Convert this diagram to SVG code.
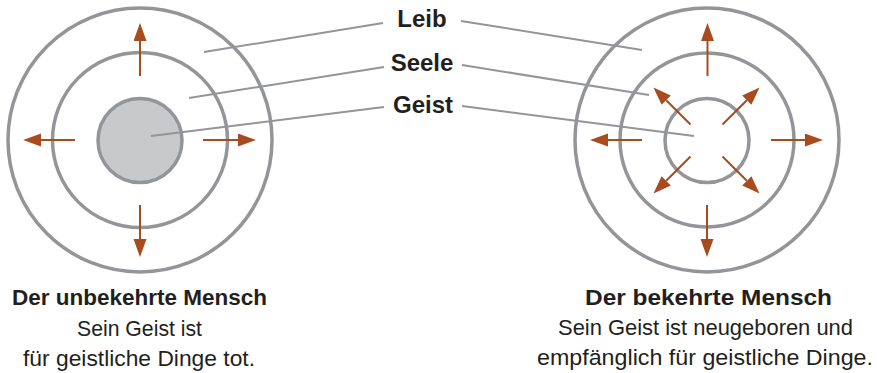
<svg xmlns="http://www.w3.org/2000/svg" width="877" height="373" viewBox="0 0 877 373">
<style>
.ring{fill:none;stroke:#939598;stroke-width:3.5}
.core{fill:#c8c9cb;stroke:#939598;stroke-width:3.5}
.lead{stroke:#939598;stroke-width:2;fill:none}
.arr{stroke:#a84b1f;stroke-width:2;fill:none;marker-end:url(#ah)}
.lbl{font-family:"Liberation Sans",Arial,sans-serif;font-weight:bold;font-size:24px;fill:#231f20;text-anchor:middle}
.hd{font-family:"Liberation Sans",Arial,sans-serif;font-weight:bold;font-size:22px;fill:#231f20;text-anchor:middle}
.tx{font-family:"Liberation Sans",Arial,sans-serif;font-size:22px;fill:#231f20;text-anchor:middle}
</style>
<defs>
<marker id="ah" markerUnits="userSpaceOnUse" markerWidth="19" markerHeight="14" refX="0" refY="6.5" orient="auto" viewBox="0 0 19 14">
<path d="M0,0 L18,6.5 L0,13 z" fill="#a84b1f"/>
</marker>
</defs>
<rect width="877" height="373" fill="#ffffff"/>
<g id="left-diagram">
<circle class="ring" cx="140" cy="140" r="132"/>
<circle class="ring" cx="140" cy="140" r="87.5"/>
<circle class="core" cx="140" cy="140.5" r="42"/>
</g>
<g id="right-diagram">
<circle class="ring" cx="707" cy="140" r="132"/>
<circle class="ring" cx="707" cy="140" r="87"/>
<circle class="ring" cx="707" cy="140.5" r="42"/>
</g>
<g id="label-leib"><text class="lbl" x="422" y="27">Leib</text></g>
<g id="label-seele"><text class="lbl" x="422" y="71">Seele</text></g>
<g id="label-geist"><text class="lbl" x="423" y="113">Geist</text></g>
<g id="connectors">
<line class="lead" x1="204" y1="52" x2="383" y2="23"/>
<line class="lead" x1="189" y1="98" x2="384" y2="67"/>
<line class="lead" x1="151" y1="136" x2="384" y2="107"/>
<line class="lead" x1="461" y1="21" x2="642" y2="50"/>
<line class="lead" x1="462" y1="65" x2="649" y2="95"/>
<line class="lead" x1="462" y1="106" x2="694" y2="136"/>
<line class="arr" x1="140" y1="76" x2="140" y2="41"/>
<line class="arr" x1="203" y1="140" x2="238" y2="140"/>
<line class="arr" x1="140" y1="205" x2="140" y2="239"/>
<line class="arr" x1="75" y1="140" x2="41" y2="140"/>
<line class="arr" x1="707.5" y1="76" x2="707.5" y2="41"/>
<line class="arr" x1="771" y1="140" x2="805" y2="140"/>
<line class="arr" x1="707" y1="205" x2="707" y2="239"/>
<line class="arr" x1="642" y1="140" x2="608" y2="140"/>
<line class="arr" x1="722.5" y1="124.5" x2="746.8" y2="100.2"/>
<line class="arr" x1="690.5" y1="124.5" x2="666.2" y2="100.2"/>
<line class="arr" x1="690.5" y1="156.5" x2="666.2" y2="180.8"/>
<line class="arr" x1="722.5" y1="156.5" x2="746.8" y2="180.8"/>
</g>
<g id="caption-left">
<text class="hd" x="139.5" y="305" textLength="255" lengthAdjust="spacingAndGlyphs">Der unbekehrte Mensch</text>
<text class="tx" x="139.5" y="336" textLength="125" lengthAdjust="spacingAndGlyphs">Sein Geist ist</text>
<text class="tx" x="139" y="366" textLength="232" lengthAdjust="spacingAndGlyphs">für geistliche Dinge tot.</text>
</g>
<g id="caption-right">
<text class="hd" x="708.5" y="305" textLength="247" lengthAdjust="spacingAndGlyphs">Der bekehrte Mensch</text>
<text class="tx" x="705.5" y="335" textLength="295" lengthAdjust="spacingAndGlyphs">Sein Geist ist neugeboren und</text>
<text class="tx" x="705" y="365" textLength="336" lengthAdjust="spacingAndGlyphs">empfänglich für geistliche Dinge.</text>
</g>
</svg>
